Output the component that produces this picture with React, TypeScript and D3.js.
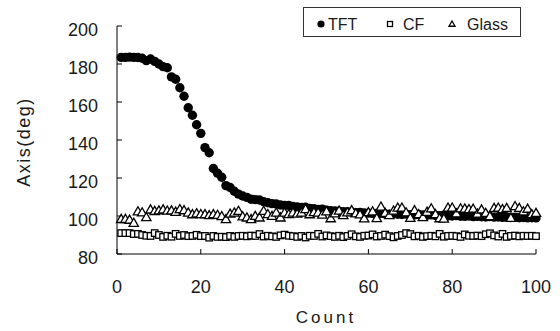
import React from "react";
import * as d3 from "d3";

const counts: number[] = Array.from({ length: 100 }, (_, i) => i + 1);

const tft: number[] = [
  183.5, 183.5, 183.6, 183.5, 183.4, 183.0, 181.8, 182.6, 181.4, 180.0,
  178.6, 178.0, 173.2, 172.0, 167.5, 163.0, 157.0, 153.0, 148.0, 143.5,
  136.0, 133.3, 125.0, 122.5, 120.4, 116.0, 115.0, 113.0, 111.5, 110.5,
  109.8, 108.8, 108.6, 108.4, 107.5, 107.0, 106.5, 106.3, 105.8, 105.5,
  105.6, 105.0, 104.8, 104.5, 104.6, 104.0, 103.8, 103.5, 103.6, 103.0,
  102.8, 102.6, 102.5, 102.2, 102.3, 102.0, 101.8, 101.9, 101.6, 101.5,
  101.4, 101.3, 101.4, 101.1, 101.0, 101.2, 100.9, 100.8, 101.0, 100.7,
  100.6, 100.8, 100.5, 100.4, 100.6, 100.3, 100.2, 100.4, 100.1, 100.0,
  100.2, 99.9, 99.8, 100.0, 99.7, 99.8, 99.6, 99.5, 99.7, 99.4,
  99.5, 99.3, 99.4, 99.2, 99.3, 99.1, 99.2, 99.0, 99.1, 99.0,
];

const cf: number[] = [
  91.0, 91.0, 91.0, 90.5, 90.6, 90.0, 89.6, 89.5, 91.0, 90.0,
  89.0, 89.6, 89.1, 90.6, 89.5, 90.0, 89.4, 89.5, 90.1, 89.4,
  89.5, 88.6, 89.5, 89.0, 89.1, 88.9, 89.5, 89.0, 89.5, 89.6,
  89.3, 89.7, 89.5, 90.5, 89.2, 89.6, 89.3, 89.0, 89.8, 90.2,
  89.6, 89.4, 89.0, 89.5, 88.7, 89.6, 89.5, 90.6, 89.2, 89.8,
  89.4, 89.0, 89.6, 88.9, 89.5, 90.4, 89.3, 89.0, 89.6, 89.7,
  90.3, 89.2, 89.5, 90.2, 89.4, 88.8, 89.5, 90.0, 91.0, 90.5,
  89.3, 89.6, 89.0, 89.4, 89.6, 89.3, 90.6, 89.1, 89.5, 89.6,
  89.4, 89.0, 90.3, 89.6, 89.5, 89.7, 89.4, 90.4, 90.9, 89.8,
  89.2, 90.6, 89.0, 89.5, 89.7, 89.3, 89.6, 89.5, 89.6, 89.4,
];

const glass: number[] = [
  98.0, 98.0, 97.6, 96.0, 102.0, 101.5, 99.0, 103.0, 102.2, 102.5,
  103.0, 102.4, 102.5, 101.8, 103.2, 102.6, 101.4, 100.5, 101.0, 100.6,
  100.5, 100.0, 100.5, 100.2, 99.5, 97.9, 100.8, 101.4, 102.3, 99.4,
  98.8, 97.9, 99.6, 98.8, 102.3, 100.6, 99.6, 101.4, 98.8, 101.4,
  100.6, 101.4, 100.8, 101.4, 103.2, 100.5, 101.6, 101.4, 100.3, 102.0,
  98.4, 101.0, 102.4, 100.0, 101.5, 102.6, 101.0, 100.4, 98.3, 101.6,
  102.0, 98.5, 104.5, 101.2, 100.0, 102.4, 104.0, 104.0, 101.5, 98.6,
  102.6, 100.6, 99.0, 101.8, 103.6, 100.5, 98.4, 98.2, 104.0, 104.0,
  101.0, 103.6, 103.5, 103.2, 103.4, 100.8, 103.0, 101.2, 99.5, 103.8,
  104.0, 103.2, 103.8, 98.6, 104.8, 103.8, 102.0, 103.4, 100.5, 101.2,
];

const xTicks: number[] = [0, 20, 40, 60, 80, 100];
const yTicks: number[] = [80, 100, 120, 140, 160, 180, 200];

const FONT = "'Liberation Sans', Arial, sans-serif";
const TEXT = "#1a1a1a";

export default function App() {
  const left = 117;
  const right = 536;
  const top = 26;
  const bottom = 254;
  const x = d3.scaleLinear().domain([0, 100]).range([left, right]);
  const y = d3.scaleLinear().domain([80, 200]).range([bottom, top]);
  const tri = d3.symbol().type(d3.symbolTriangle).size(38)();
  const triLegend = d3.symbol().type(d3.symbolTriangle).size(16)();
  const sq = 6.5;

  return (
    <svg width={560} height={331} style={{ position: "absolute", left: 0, top: 0, background: "#fff" }}>
      <rect x={0} y={0} width={560} height={331} fill="#fff" />
      {/* axes */}
      <line x1={left} y1={top} x2={left} y2={bottom} stroke="#000" strokeWidth={1} />
      <line x1={left} y1={bottom} x2={right} y2={bottom} stroke="#000" strokeWidth={1} />
      {yTicks.map((t) => (
        <g key={"y" + t}>
          <line x1={left} x2={left + 5} y1={y(t)} y2={y(t)} stroke="#000" />
          <text x={98} y={y(t) + 10} textAnchor="end" fontFamily={FONT} fontSize={18} fill={TEXT}>
            {t}
          </text>
        </g>
      ))}
      {xTicks.map((t) => (
        <g key={"x" + t}>
          <line x1={x(t)} x2={x(t)} y1={bottom} y2={bottom - 5} stroke="#000" />
          <text x={x(t)} y={293} textAnchor="middle" fontFamily={FONT} fontSize={18} fill={TEXT}>
            {t}
          </text>
        </g>
      ))}
      <text x={326} y={323} textAnchor="middle" fontFamily={FONT} fontSize={17} letterSpacing={3} fill={TEXT}>
        Count
      </text>
      <text
        transform={`translate(30,142) rotate(-90)`}
        textAnchor="middle"
        fontFamily={FONT}
        fontSize={18}
        letterSpacing={1.5}
        fill={TEXT}
      >
        Axis(deg)
      </text>

      {/* series */}
      {counts.map((c, i) => (
        <circle key={"t" + i} cx={x(c)} cy={y(tft[i])} r={4.7} fill="#000" />
      ))}
      {counts.map((c, i) => (
        <rect
          key={"c" + i}
          x={x(c) - sq / 2}
          y={y(cf[i]) - sq / 2}
          width={sq}
          height={sq}
          fill="#fff"
          stroke="#000"
          strokeWidth={1.3}
        />
      ))}
      {counts.map((c, i) => (
        <path
          key={"g" + i}
          d={tri || ""}
          transform={`translate(${x(c)},${y(glass[i])})`}
          fill="#fff"
          stroke="#000"
          strokeWidth={1.3}
        />
      ))}

      {/* legend */}
      <rect x={303.5} y={7.5} width={217} height={29} fill="#fff" stroke="#333" strokeWidth={1} />
      <circle cx={321} cy={24} r={3.6} fill="#000" />
      <text x={328} y={29.5} fontFamily={FONT} fontSize={16} fill={TEXT}>TFT</text>
      <rect x={387.5} y={21.5} width={5} height={5} fill="#fff" stroke="#000" strokeWidth={1.3} />
      <text x={403} y={29.5} fontFamily={FONT} fontSize={16} fill={TEXT}>CF</text>
      <path d={triLegend || ""} transform="translate(452,24.5)" fill="#fff" stroke="#000" strokeWidth={1.3} />
      <text x={467} y={29.5} fontFamily={FONT} fontSize={16} fill={TEXT}>Glass</text>
    </svg>
  );
}
